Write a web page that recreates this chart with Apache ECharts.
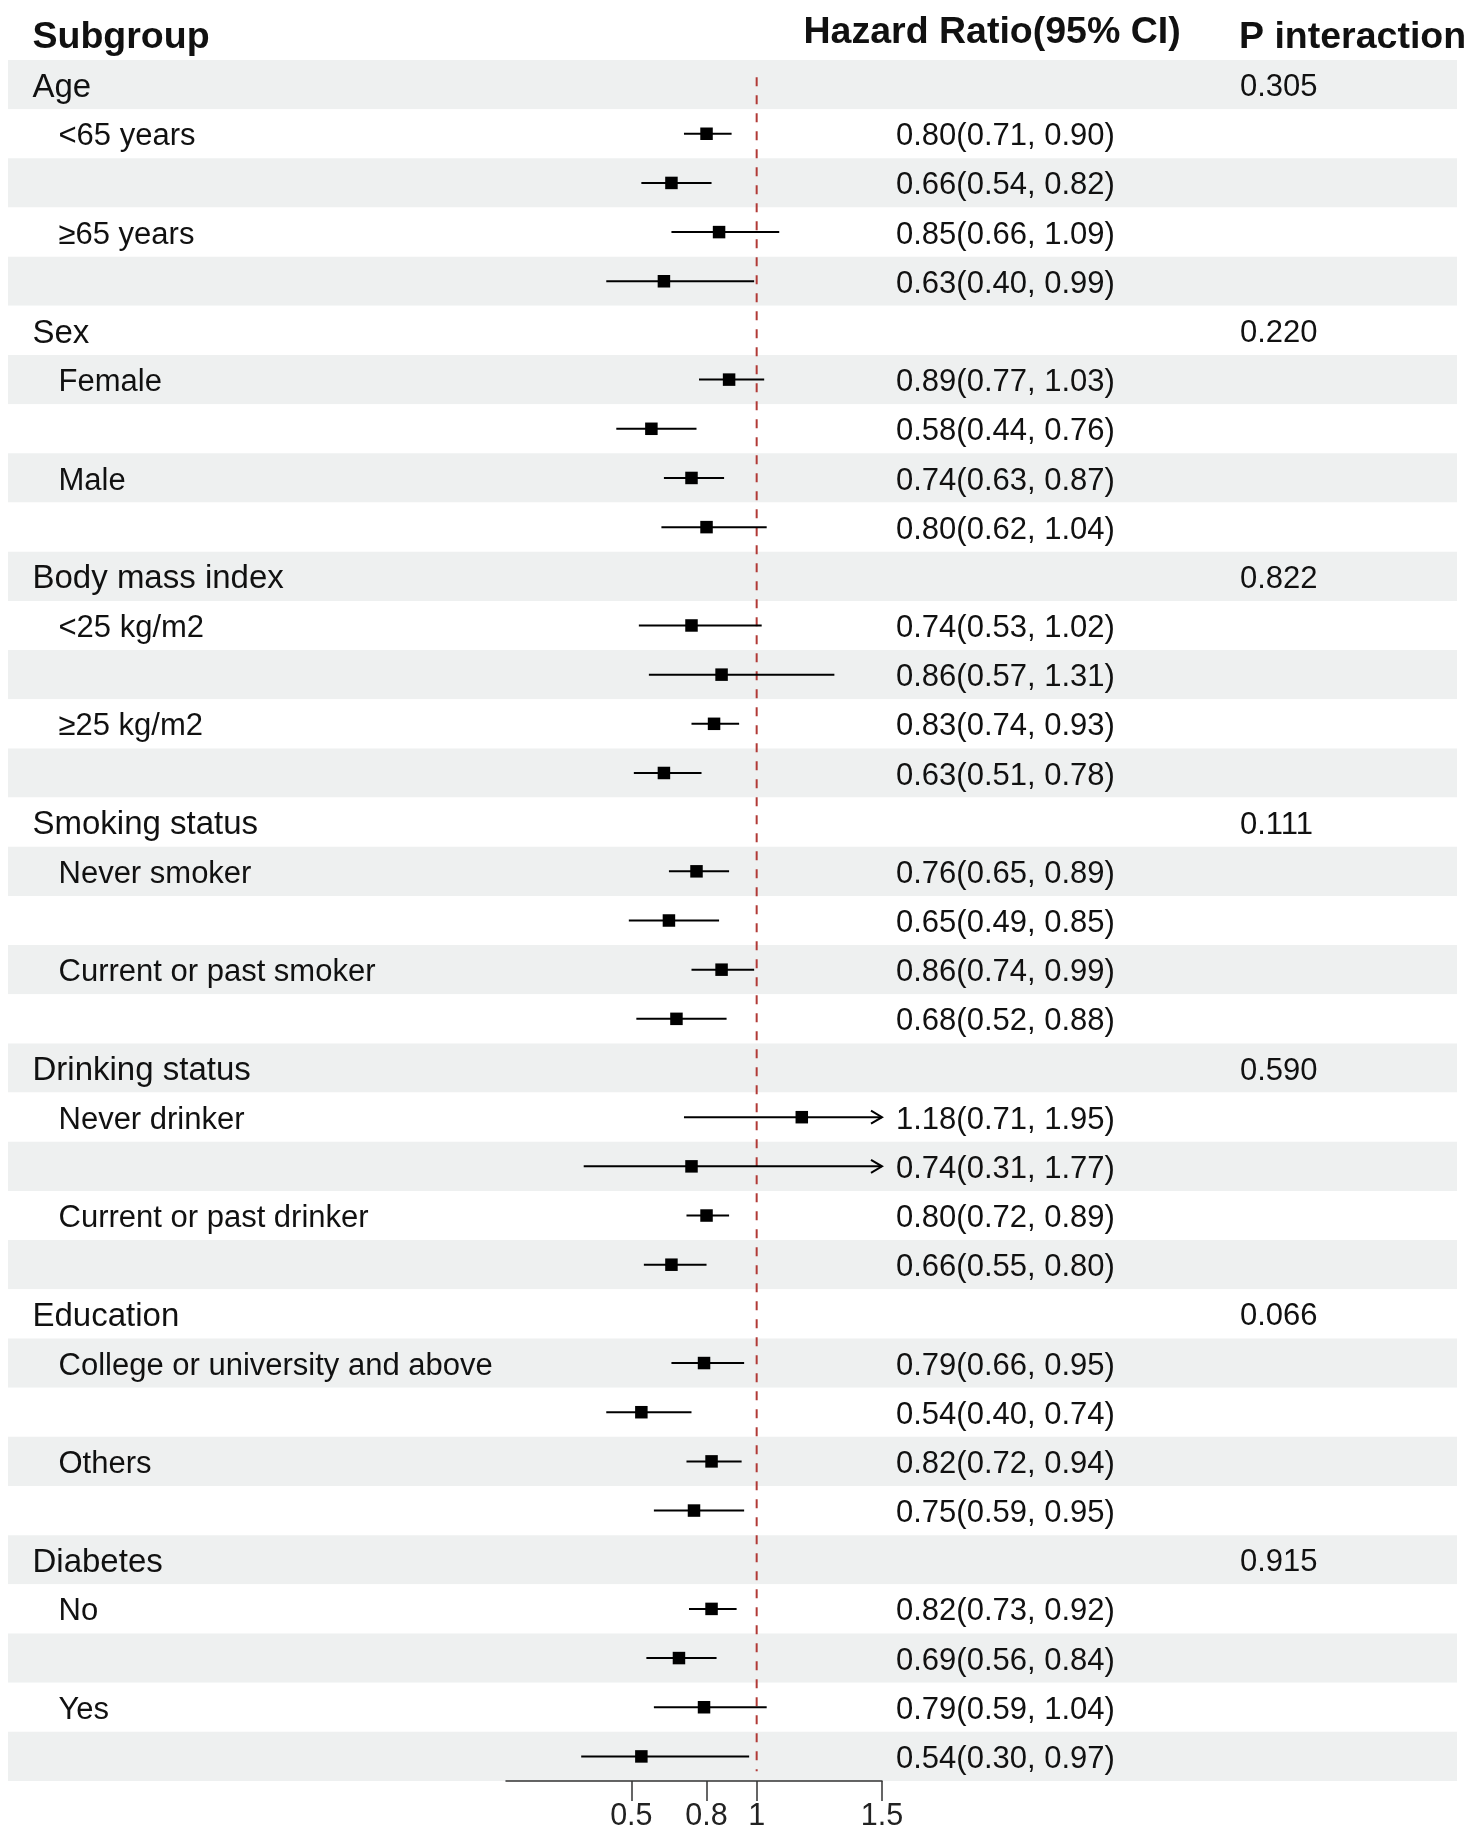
<!DOCTYPE html>
<html>
<head>
<meta charset="utf-8">
<script src="https://cdn.jsdelivr.net/npm/echarts@6/dist/echarts.min.js"></script>
<style>
html,body{margin:0;padding:0;background:#ffffff;}
#chart{width:1477px;height:1838px;}
</style>
</head>
<body>
<div id="chart"></div>
<script>
// ---------------- data ----------------
const groupNames = ['Age', 'Sex', 'Body mass index', 'Smoking status', 'Drinking status', 'Education', 'Diabetes'];
const groupP = ['0.305', '0.220', '0.822', '0.111', '0.590', '0.066', '0.915'];
const subgroupNames = [
  ['<65 years', '≥65 years'],
  ['Female', 'Male'],
  ['<25 kg/m2', '≥25 kg/m2'],
  ['Never smoker', 'Current or past smoker'],
  ['Never drinker', 'Current or past drinker'],
  ['College or university and above', 'Others'],
  ['No', 'Yes']
];
// two estimates per subgroup, in row order
const hrEst  = [0.80, 0.66, 0.85, 0.63,  0.89, 0.58, 0.74, 0.80,  0.74, 0.86, 0.83, 0.63,  0.76, 0.65, 0.86, 0.68,  1.18, 0.74, 0.80, 0.66,  0.79, 0.54, 0.82, 0.75,  0.82, 0.69, 0.79, 0.54];
const hrLow  = [0.71, 0.54, 0.66, 0.40,  0.77, 0.44, 0.63, 0.62,  0.53, 0.57, 0.74, 0.51,  0.65, 0.49, 0.74, 0.52,  0.71, 0.31, 0.72, 0.55,  0.66, 0.40, 0.72, 0.59,  0.73, 0.56, 0.59, 0.30];
const hrHigh = [0.90, 0.82, 1.09, 0.99,  1.03, 0.76, 0.87, 1.04,  1.02, 1.31, 0.93, 0.78,  0.89, 0.85, 0.99, 0.88,  1.95, 1.77, 0.89, 0.80,  0.95, 0.74, 0.94, 0.95,  0.92, 0.84, 1.04, 0.97];
const xTicks = [0.5, 0.8, 1, 1.5];
const xMin = 0;
const xMax = 1.5;
const refValue = 1;
const headers = ['Subgroup', 'Hazard Ratio(95% CI)', 'P interaction'];

// ---------------- build rows ----------------
const rows = [];
let k = 0;
groupNames.forEach(function (g, gi) {
  rows.push({ type: 'group', label: g, p: groupP[gi] });
  subgroupNames[gi].forEach(function (s) {
    for (let j = 0; j < 2; j++) {
      rows.push({ type: 'sub', label: j === 0 ? s : '', est: hrEst[k], lo: hrLow[k], hi: hrHigh[k] });
      k++;
    }
  });
});
const nRows = rows.length;
const rowIds = rows.map(function (r, i) { return 'r' + i; });
const fmt = function (v) { return v.toFixed(2); };

const forestData = [];
rows.forEach(function (r, i) {
  if (r.type === 'sub') forestData.push([i + 0.5, r.est, r.lo, r.hi]);
});

// ---------------- layout / style ----------------
const FONT = "'Liberation Sans', Arial, Helvetica, sans-serif";
const TXT = '#111111';
const TOP = 60, BOTTOM = 57;

const chart = echarts.init(document.getElementById('chart'), null, { renderer: 'canvas' });

function hiddenX(gi) {
  return { type: 'value', gridIndex: gi, show: false, min: 0, max: 1 };
}
function catY(gi, extra) {
  return Object.assign({
    type: 'category', gridIndex: gi, data: rowIds, inverse: true,
    axisLine: { show: false }, axisTick: { show: false }, splitLine: { show: false }
  }, extra);
}
const headStyle = { fontFamily: FONT, fontSize: 37.5, fontWeight: 'bold', color: TXT };
const numRich = { t: { fontFamily: FONT, fontSize: 31, color: TXT, padding: [6, 0, 0, 0] } };

const option = {
  backgroundColor: '#ffffff',
  animation: false,
  title: [
    { text: headers[0], left: 32.5, top: 19, padding: 0, textStyle: headStyle },
    { text: headers[1], left: 803.5, top: 14, padding: 0, textStyle: headStyle },
    { text: headers[2], left: 1239, top: 19, padding: 0, textStyle: headStyle }
  ],
  grid: [
    { left: 8, right: 20, top: TOP, bottom: BOTTOM },      // table background + labels
    { left: 506, width: 376, top: TOP, bottom: BOTTOM },   // forest plot
    { left: 896, width: 300, top: TOP, bottom: BOTTOM },   // HR text
    { left: 1240, width: 217, top: TOP, bottom: BOTTOM }   // P interaction
  ],
  xAxis: [
    hiddenX(0),
    {
      type: 'value', gridIndex: 1, min: xMin, max: xMax, position: 'bottom',
      axisLine: { show: true, onZero: false, lineStyle: { color: '#333333', width: 1.5 } },
      axisTick: { show: true, customValues: xTicks, length: 20, lineStyle: { color: '#333333', width: 1.5 } },
      axisLabel: {
        show: true, customValues: xTicks, margin: 20.5,
        fontFamily: FONT, fontSize: 30.5, color: '#222222',
        formatter: function (v) { return String(v); }
      },
      splitLine: { show: false }
    },
    hiddenX(2),
    hiddenX(3)
  ],
  yAxis: [
    catY(0, {
      splitArea: { show: true, areaStyle: { color: ['#eef0f0', '#ffffff'] } },
      axisLabel: {
        show: true, inside: true, margin: 24.5, interval: 0,
        formatter: function (v, i) {
          const r = rows[i];
          if (!r || !r.label) return '';
          return r.type === 'group' ? '{g|' + r.label + '}' : '{s|' + r.label + '}';
        },
        rich: {
          g: { fontFamily: FONT, fontSize: 33, color: TXT, padding: [6, 0, 0, 0] },
          s: { fontFamily: FONT, fontSize: 31, color: TXT, padding: [6, 0, 0, 26] }
        }
      }
    }),
    { type: 'value', gridIndex: 1, min: 0, max: nRows, inverse: true, show: false },
    catY(2, {
      axisLabel: {
        show: true, inside: true, margin: 0, interval: 0, rich: numRich,
        formatter: function (v, i) {
          const r = rows[i];
          return r && r.type === 'sub' ? '{t|' + fmt(r.est) + '(' + fmt(r.lo) + ', ' + fmt(r.hi) + ')}' : '';
        }
      }
    }),
    catY(3, {
      axisLabel: {
        show: true, inside: true, margin: 0, interval: 0, rich: numRich,
        formatter: function (v, i) {
          const r = rows[i];
          return r && r.type === 'group' ? '{t|' + r.p + '}' : '';
        }
      }
    })
  ],
  series: [
    {
      type: 'line', xAxisIndex: 1, yAxisIndex: 1, silent: true,
      data: [[refValue, 0.35], [refValue, nRows - 0.2]],
      symbol: 'none',
      lineStyle: { color: '#b13a36', width: 2, type: [9, 9] },
      z: 1
    },
    {
      type: 'custom', xAxisIndex: 1, yAxisIndex: 1, silent: true,
      data: forestData,
      encode: { x: [1, 2, 3], y: 0 },
      clip: false,
      z: 3,
      renderItem: function (params, api) {
        const y = api.value(0);
        const est = api.value(1), lo = api.value(2), hi = api.value(3);
        const pLo = api.coord([Math.max(lo, xMin), y]);
        const pHi = api.coord([Math.min(hi, xMax), y]);
        const pEst = api.coord([est, y]);
        const children = [
          { type: 'line', shape: { x1: pLo[0], y1: pLo[1], x2: pHi[0], y2: pHi[1] },
            style: { stroke: '#000000', lineWidth: 2 } }
        ];
        if (hi > xMax) {
          children.push({ type: 'polyline',
            shape: { points: [[pHi[0] - 11, pHi[1] - 6.5], [pHi[0], pHi[1]], [pHi[0] - 11, pHi[1] + 6.5]] },
            style: { stroke: '#000000', lineWidth: 2, fill: null } });
        }
        const s = 12.5;
        children.push({ type: 'rect', shape: { x: pEst[0] - s / 2, y: pEst[1] - s / 2, width: s, height: s },
          style: { fill: '#000000' } });
        return { type: 'group', children: children };
      }
    }
  ]
};
chart.setOption(option);
</script>
</body>
</html>
